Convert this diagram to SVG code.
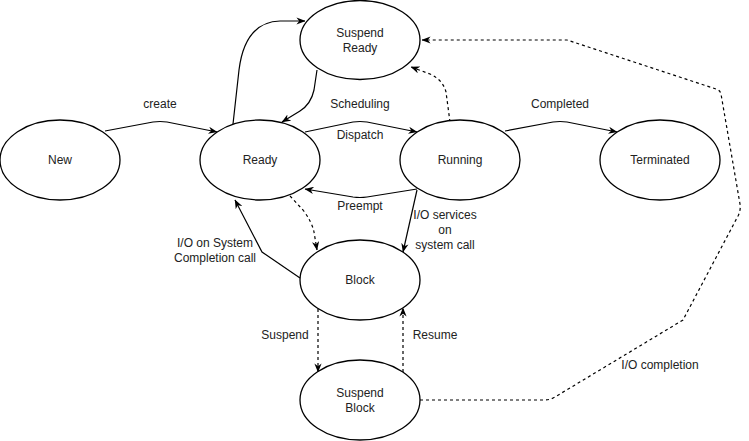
<svg xmlns="http://www.w3.org/2000/svg" width="749" height="441" viewBox="0 0 749 441">
<style>
.node ellipse{fill:#fff;stroke:#000;stroke-width:1.3}
text{font-family:"Liberation Sans",Arial,sans-serif;font-size:12px;fill:#222;text-anchor:middle}
.e{fill:none;stroke:#000;stroke-width:1.2;marker-end:url(#arr)}
.d{stroke-dasharray:3 3}
</style>
<defs>
<marker id="arr" viewBox="0 0 10 8" markerWidth="9" markerHeight="7.5" refX="9.5" refY="4" orient="auto" markerUnits="userSpaceOnUse">
<path d="M0,0 L10,4 L0,8 L3,4 z" fill="#000"/>
</marker>
</defs>
<rect width="749" height="441" fill="#fff"/>
<g id="connectors">
<path class="e" d="M105,131 L153,122 Q160,121 167,122 L217,132"/>
<path class="e" d="M233,124 L239,70 Q245,22 280,21 L305,21"/>
<path class="e" d="M317,70 L314,90 Q311,104 300,111 L282,122"/>
<path class="e" d="M305,132 L353,122 Q360,121 367,122 L417,132"/>
<path class="e d" d="M450,122 L446,92 Q443,80 430,74 L411,67"/>
<path class="e" d="M505,131 L553,122 Q560,121 567,122 L617,132"/>
<path class="e" d="M417,189 L367,197 Q360,198 353,197 L305,189"/>
<path class="e" d="M417,190 L403,252"/>
<path class="e d" d="M290,196 L303,210 Q312,222 314,232 L317,250"/>
<path class="e" d="M300,278 L262,252 L235,200"/>
<path class="e d" d="M318,309 L318,372"/>
<path class="e d" d="M403,372 L403,308"/>
<path class="e d" d="M420,400 L545,400 Q550,400 555,397 L683,320 L738,216 Q741,210 740,204 L721,94 Q720,90 716,89 L567,40 L422,40"/>
<text x="160" y="108">create</text>
<text x="360" y="108">Scheduling</text>
<text x="360" y="139">Dispatch</text>
<text x="560" y="108">Completed</text>
<text x="360" y="210">Preempt</text>
<text x="445" y="219">I/O services</text>
<text x="445" y="234">on</text>
<text x="445" y="249">system call</text>
<text x="215" y="247">I/O on System</text>
<text x="215" y="262">Completion call</text>
<text x="285" y="339">Suspend</text>
<text x="435" y="339">Resume</text>
<text x="660" y="369">I/O completion</text>
</g>
<g id="new" class="node"><ellipse cx="60" cy="160" rx="60" ry="40"/><text x="60" y="164">New</text></g>
<g id="ready" class="node"><ellipse cx="260" cy="160" rx="60" ry="40"/><text x="260" y="164">Ready</text></g>
<g id="running" class="node"><ellipse cx="460" cy="160" rx="60" ry="40"/><text x="460" y="164">Running</text></g>
<g id="terminated" class="node"><ellipse cx="660" cy="160" rx="60" ry="40"/><text x="660" y="164">Terminated</text></g>
<g id="suspend-ready" class="node"><ellipse cx="360" cy="40" rx="60" ry="39.5"/><text x="360" y="37">Suspend</text><text x="360" y="52">Ready</text></g>
<g id="block" class="node"><ellipse cx="360" cy="280" rx="60" ry="40"/><text x="360" y="284">Block</text></g>
<g id="suspend-block" class="node"><ellipse cx="360" cy="400" rx="60" ry="40"/><text x="360" y="397">Suspend</text><text x="360" y="412">Block</text></g>
</svg>
